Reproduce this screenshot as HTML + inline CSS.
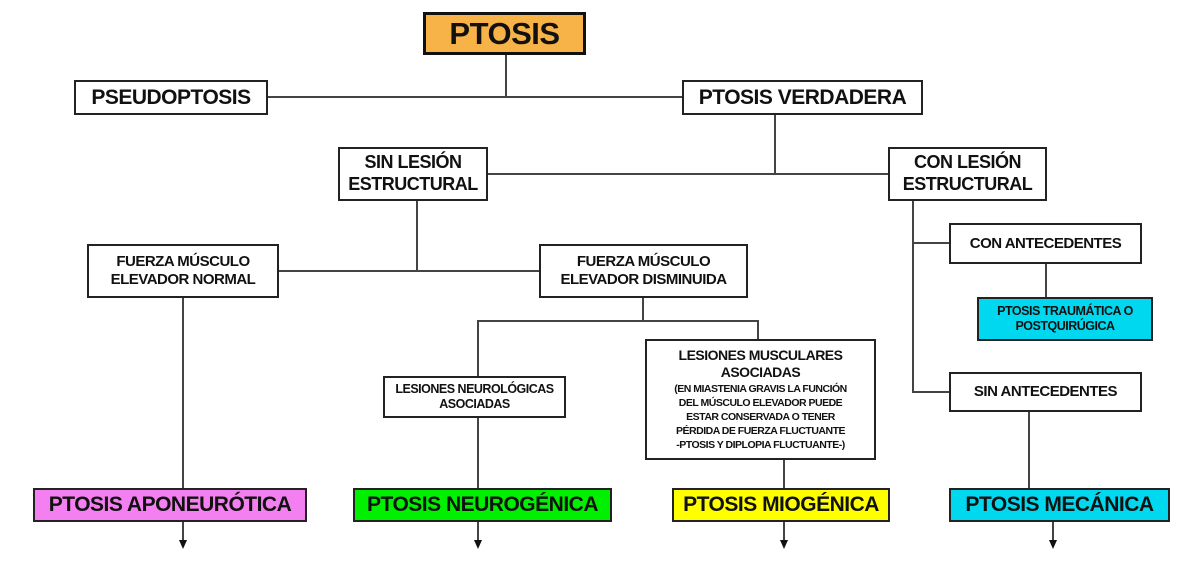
<!DOCTYPE html>
<html><head><meta charset="utf-8"><style>
body{margin:0;width:1192px;height:565px;background:#fff;position:relative;overflow:hidden;font-family:"Liberation Sans",sans-serif;font-weight:bold;color:#111}
.b{position:absolute;box-sizing:border-box;border:2px solid #222;display:flex;align-items:center;justify-content:center;text-align:center;line-height:1.2;background:#fff;letter-spacing:-0.5px}
.l{position:absolute;background:#444}
</style></head><body>
<div class="l" style="left:505px;top:55px;width:2px;height:43px"></div>
<div class="l" style="left:268px;top:96px;width:414px;height:2px"></div>
<div class="l" style="left:774px;top:114px;width:2px;height:61px"></div>
<div class="l" style="left:488px;top:173px;width:400px;height:2px"></div>
<div class="l" style="left:416px;top:201px;width:2px;height:71px"></div>
<div class="l" style="left:279px;top:270px;width:260px;height:2px"></div>
<div class="l" style="left:642px;top:298px;width:2px;height:24px"></div>
<div class="l" style="left:477px;top:320px;width:282px;height:2px"></div>
<div class="l" style="left:477px;top:320px;width:2px;height:56px"></div>
<div class="l" style="left:757px;top:320px;width:2px;height:19px"></div>
<div class="l" style="left:912px;top:201px;width:2px;height:192px"></div>
<div class="l" style="left:912px;top:242px;width:37px;height:2px"></div>
<div class="l" style="left:912px;top:391px;width:37px;height:2px"></div>
<div class="l" style="left:1045px;top:264px;width:2px;height:33px"></div>
<div class="l" style="left:182px;top:298px;width:2px;height:190px"></div>
<div class="l" style="left:477px;top:418px;width:2px;height:70px"></div>
<div class="l" style="left:783px;top:460px;width:2px;height:28px"></div>
<div class="l" style="left:1028px;top:411px;width:2px;height:77px"></div>
<div class="l" style="left:182px;top:522px;width:2px;height:20px"></div>
<div class="l" style="left:477px;top:522px;width:2px;height:20px"></div>
<div class="l" style="left:783px;top:522px;width:2px;height:20px"></div>
<div class="l" style="left:1052px;top:522px;width:2px;height:20px"></div>
<svg style="position:absolute;left:0;top:0" width="1192" height="565">
<polygon points="179,540 187,540 183,549" fill="#111"/>
<polygon points="474,540 482,540 478,549" fill="#111"/>
<polygon points="780,540 788,540 784,549" fill="#111"/>
<polygon points="1049,540 1057,540 1053,549" fill="#111"/>
</svg>
<div class="b" style="left:423px;top:12px;width:163px;height:43px;background:#f7b347;border:3px solid #111;font-size:31px">PTOSIS</div>
<div class="b" style="left:74px;top:80px;width:194px;height:35px;font-size:21px">PSEUDOPTOSIS</div>
<div class="b" style="left:682px;top:80px;width:241px;height:35px;font-size:21px">PTOSIS VERDADERA</div>
<div class="b" style="left:338px;top:147px;width:150px;height:54px;font-size:18px">SIN LESIÓN<br>ESTRUCTURAL</div>
<div class="b" style="left:888px;top:147px;width:159px;height:54px;font-size:18px">CON LESIÓN<br>ESTRUCTURAL</div>
<div class="b" style="left:87px;top:244px;width:192px;height:54px;font-size:15px">FUERZA MÚSCULO<br>ELEVADOR NORMAL</div>
<div class="b" style="left:539px;top:244px;width:209px;height:54px;font-size:15px">FUERZA MÚSCULO<br>ELEVADOR DISMINUIDA</div>
<div class="b" style="left:383px;top:376px;width:183px;height:42px;font-size:12.5px">LESIONES NEUROLÓGICAS<br>ASOCIADAS</div>
<div class="b" style="left:645px;top:339px;width:231px;height:121px;font-size:10.5px;line-height:1.35"><div><span style="font-size:14px;line-height:1.25">LESIONES MUSCULARES<br>ASOCIADAS</span><br>(EN MIASTENIA GRAVIS LA FUNCIÓN<br>DEL MÚSCULO ELEVADOR PUEDE<br>ESTAR CONSERVADA O TENER<br>PÉRDIDA DE FUERZA FLUCTUANTE<br>-PTOSIS Y DIPLOPIA FLUCTUANTE-)</div></div>
<div class="b" style="left:949px;top:223px;width:193px;height:41px;font-size:15px">CON ANTECEDENTES</div>
<div class="b" style="left:977px;top:297px;width:176px;height:44px;font-size:12.5px;background:#00d8f0">PTOSIS TRAUMÁTICA O<br>POSTQUIRÚGICA</div>
<div class="b" style="left:949px;top:372px;width:193px;height:40px;font-size:15px">SIN ANTECEDENTES</div>
<div class="b" style="left:33px;top:488px;width:274px;height:34px;font-size:21px;background:#f37ff0">PTOSIS APONEURÓTICA</div>
<div class="b" style="left:353px;top:488px;width:259px;height:34px;font-size:21px;background:#00f000">PTOSIS NEUROGÉNICA</div>
<div class="b" style="left:672px;top:488px;width:218px;height:34px;font-size:21px;background:#ffff00">PTOSIS MIOGÉNICA</div>
<div class="b" style="left:949px;top:488px;width:221px;height:34px;font-size:21px;background:#00d8f0">PTOSIS MECÁNICA</div>
</body></html>
